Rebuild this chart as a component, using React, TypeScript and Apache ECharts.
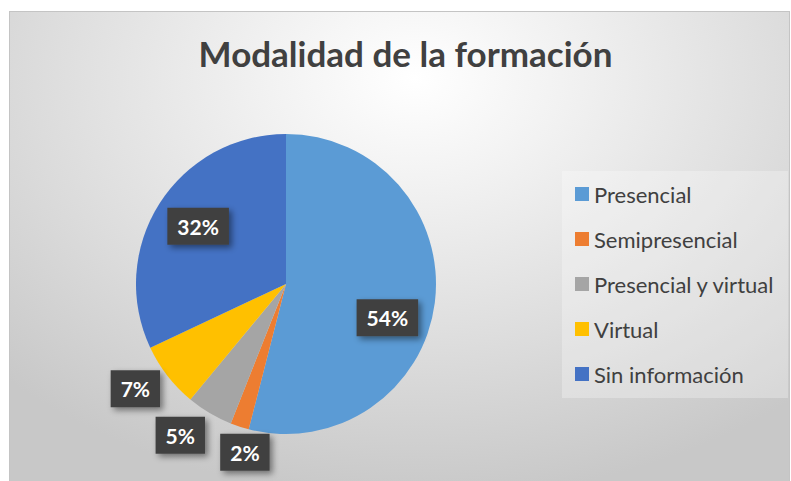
import React, { useEffect, useRef } from "react";
import * as echarts from "echarts";

const titleText = "Modalidad de la formación";
const categories = ["Presencial", "Semipresencial", "Presencial y virtual", "Virtual", "Sin información"];
const values = [54, 2, 5, 7, 32];
const colors = ["#5B9BD5", "#ED7D31", "#A5A5A5", "#FFC000", "#4472C4"];
// label nudges (px) away from the default inside position
const labelOffsets = [
  [24, 24],
  [-17, 94],
  [-66, 84],
  [-89, 57],
  [-22, -16],
];

const FONT = "Lato, 'Open Sans', sans-serif";

export default function App() {
  const ref = useRef<HTMLDivElement>(null);
  useEffect(() => {
    if (!ref.current) return;
    const chart = echarts.init(ref.current, undefined, { renderer: "svg" });
    chart.setOption({
      animation: false,
      backgroundColor: "transparent",
      graphic: [
        {
          type: "text",
          x: 395.5,
          y: 23,
          style: {
            text: titleText,
            textAlign: "center",
            textVerticalAlign: "top",
            fill: "#404040",
            font: `bold 35px ${FONT}`,
          },
        },
      ],
      legend: {
        orient: "vertical",
        left: 552,
        top: 159,
        padding: [12, 13, 13, 13],
        backgroundColor: "rgba(255,255,255,0.28)",
        itemWidth: 14,
        itemHeight: 14,
        itemGap: 23,
        icon: "rect",
        data: categories,
        selectedMode: false,
        textStyle: { fontSize: 22, color: "#404040", fontFamily: FONT, lineHeight: 22 },
      },
      series: [
        {
          type: "pie",
          center: [276, 272],
          radius: [0, 150],
          startAngle: 90,
          clockwise: true,
          avoidLabelOverlap: false,
          color: colors,
          itemStyle: { borderWidth: 0 },
          label: {
            show: true,
            position: "inside",
            formatter: "{d}%",
            color: "#ffffff",
            fontSize: 21,
            fontWeight: "bold",
            fontFamily: FONT,
            backgroundColor: "#404040",
            padding: [8, 10, 8, 10],
            shadowColor: "rgba(0,0,0,0.45)",
            shadowBlur: 6,
            shadowOffsetX: 3,
            shadowOffsetY: 3,
          },
          labelLine: { show: false },
          labelLayout: (params: any) => ({
            dx: labelOffsets[params.dataIndex][0],
            dy: labelOffsets[params.dataIndex][1],
          }),
          emphasis: { disabled: true },
          data: categories.map((name, i) => ({ name, value: values[i] })),
        },
      ],
    });
    return () => chart.dispose();
  }, []);
  return (
    <div
      style={{
        position: "absolute",
        left: 9,
        top: 11,
        width: 781,
        height: 470,
        borderTop: "1px solid #c4c4c4",
        borderLeft: "1px solid #c4c4c4",
        borderRight: "1px solid #c4c4c4",
        boxSizing: "border-box",
        background:
          "radial-gradient(ellipse 75% 90% at 52% 14%, #ffffff 0%, #f2f2f2 25%, #dcdcdc 65%, #c8c8c8 100%)",
      }}
    >
      <div ref={ref} style={{ width: 779, height: 469 }} />
    </div>
  );
}
